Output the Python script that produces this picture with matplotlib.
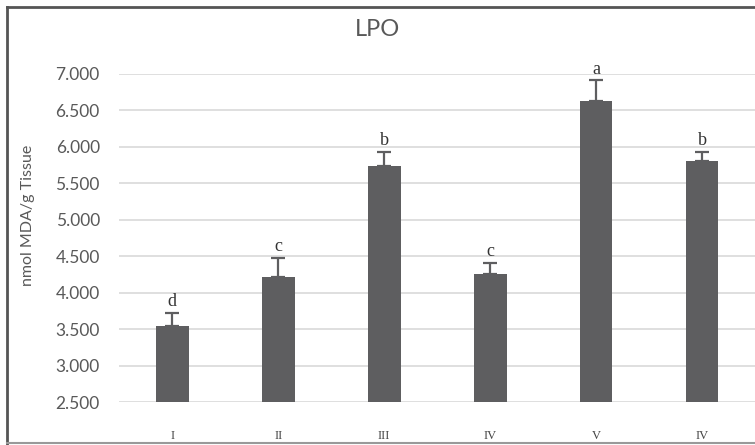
import matplotlib.pyplot as plt
from matplotlib.lines import Line2D

groups = ["I", "II", "III", "IV", "V", "IV"]
means = [3.54, 4.21, 5.74, 4.26, 6.63, 5.81]
errors = [0.18, 0.27, 0.19, 0.15, 0.28, 0.12]
letters = ["d", "c", "b", "c", "a", "b"]
yticks = [2.5, 3.0, 3.5, 4.0, 4.5, 5.0, 5.5, 6.0, 6.5, 7.0]

bar_color = "#5e5e60"
text_color = "#595959"

plt.rcParams["font.family"] = ["Lato", "DejaVu Sans"]

fig = plt.figure(figsize=(7.55, 4.45), dpi=100)
ax = fig.add_axes([0.158, 0.0966, 0.842, 0.7374])

x = range(len(groups))
ax.bar(x, [m - 2.5 for m in means], bottom=2.5, width=0.31,
       color=bar_color, zorder=3)
ax.errorbar(x, means, yerr=[[0] * len(errors), errors], fmt="none",
            ecolor=bar_color, elinewidth=1.6, capsize=5, capthick=1.6, zorder=4)

for xi, m, e, lab in zip(x, means, errors, letters):
    ax.text(xi, m + e + 0.04, lab, ha="center", va="bottom",
            fontsize=13, family="Liberation Serif", color="#333333")

ax.set_xlim(-0.5, len(groups) - 0.5)
ax.set_ylim(2.5, 7.0)
ax.set_yticks(yticks)
ax.set_yticklabels([f"{v:.3f}" for v in yticks])
ax.set_xticks(list(x))
ax.set_xticklabels(groups, family="Liberation Serif", fontsize=9)
ax.tick_params(axis="x", length=0, pad=20, colors="#444444")
ax.tick_params(axis="y", length=0, pad=14, labelsize=12.5, colors=text_color)
ax.grid(axis="y", color="#d9d9d9", linewidth=1.2, zorder=0)
for s in ax.spines.values():
    s.set_visible(False)

ax.set_ylabel("nmol MDA/g Tissue", fontsize=11.5, color=text_color)
ax.yaxis.set_label_coords(-0.133, 0.57)
fig.text(0.5, 0.933, "LPO", ha="center", va="center",
         fontsize=17, color=text_color)

# outer chart border (left, top, bottom)
fig.add_artist(Line2D([0.0093, 0.0093], [0.0, 0.984], color="#555555", lw=2))
fig.add_artist(Line2D([0.0093, 1.0], [0.984, 0.984], color="#555555", lw=2))
fig.add_artist(Line2D([0.0093, 1.0], [0.004, 0.004], color="#999999", lw=1.5))

fig.savefig("out.png", dpi=100)
